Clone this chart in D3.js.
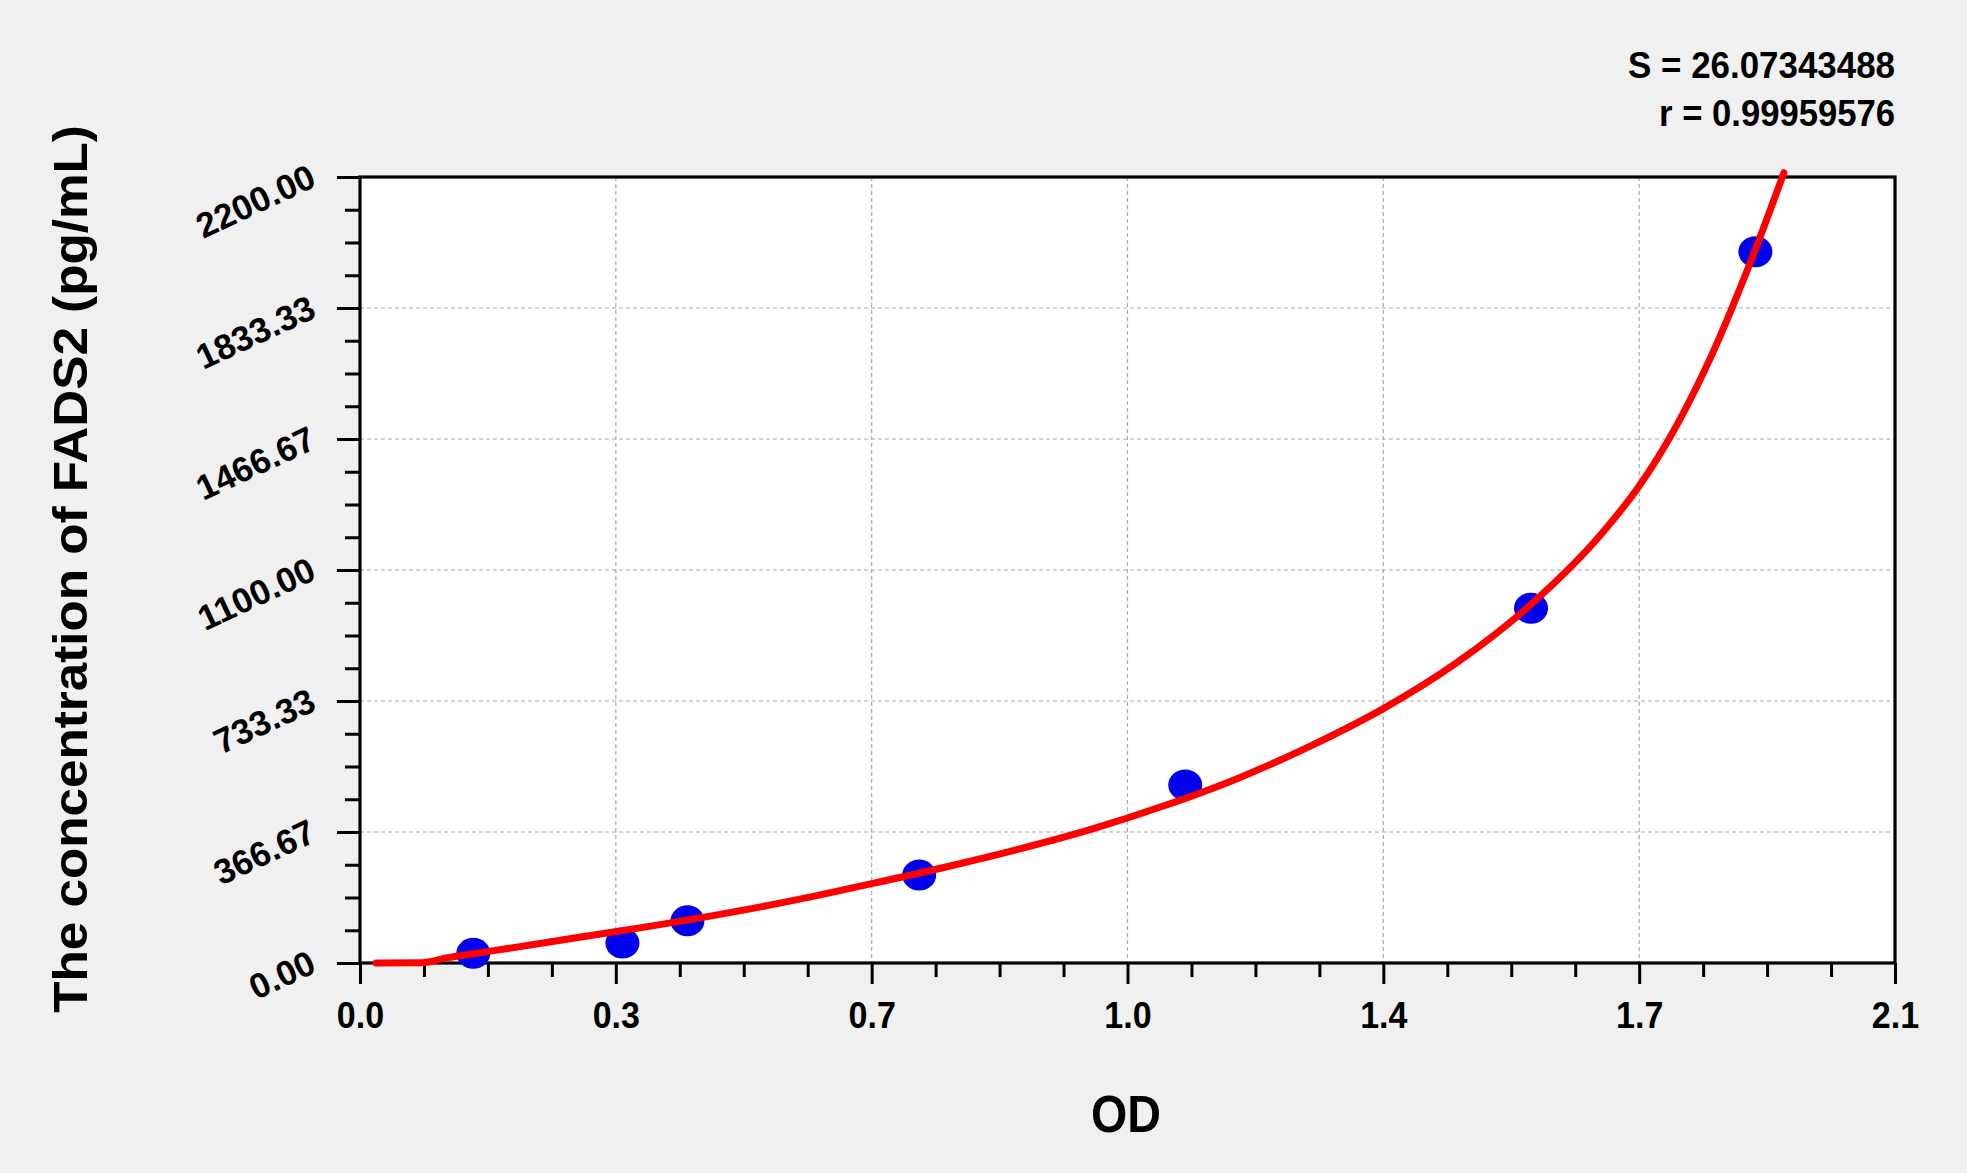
<!DOCTYPE html>
<html>
<head>
<meta charset="utf-8">
<script src="https://cdn.jsdelivr.net/npm/d3@7"></script>
<style>
  html, body { margin: 0; padding: 0; background: #f0f0f0; }
  svg { display: block; }
  text { font-family: "Liberation Sans", Arial, sans-serif; font-weight: bold; fill: #000; }
</style>
</head>
<body>
<svg id="chart" width="1967" height="1173"></svg>
<script>
// ---------- data ----------
const xTickValues = [0, 0.35, 0.7, 1.05, 1.4, 1.75, 2.1];
const xTickLabels = ["0.0", "0.3", "0.7", "1.0", "1.4", "1.7", "2.1"];
const yTickValues = [0, 366.67, 733.33, 1100, 1466.67, 1833.33, 2200];
const yTickLabels = ["0.00", "366.67", "733.33", "1100.00", "1466.67", "1833.33", "2200.00"];

// standards (OD, concentration pg/mL)
const stdOD   = [0.155, 0.359, 0.448, 0.765, 1.129, 1.602, 1.909];
const stdConc = [27, 56, 118, 246, 498, 993, 1991];

// fitted curve
const fitOD   = [0.022, 0.084, 0.12, 0.155, 0.2, 0.3, 0.4, 0.5, 0.6, 0.7, 0.8, 0.9, 1.0,
                 1.1, 1.2, 1.3, 1.4, 1.5, 1.6, 1.7, 1.75, 1.8, 1.85, 1.9, 1.948];
const fitConc = [0, 1, 15, 26, 40, 72, 104, 139, 178, 222, 268, 318, 374,
                 440, 516, 607, 712, 840, 1000, 1205, 1335, 1500, 1705, 1950, 2212];

const statS = "S = 26.07343488";
const statR = "r = 0.99959576";
const xTitle = "OD";
const yTitle = "The concentration of FADS2 (pg/mL)";

// ---------- layout ----------
const svg = d3.select("#chart");
const L = 360, R = 1895, T = 177, B = 963;
const x = d3.scaleLinear().domain([0, 2.1]).range([L, R]);
const y = d3.scaleLinear().domain([0, 2200]).range([B, T]);

// plot background
svg.append("rect").attr("x", L).attr("y", T).attr("width", R - L).attr("height", B - T).attr("fill", "#fff");

// grid
const grid = svg.append("g").attr("stroke", "#a9a9a9").attr("stroke-width", 1.2).attr("stroke-dasharray", "4,3");
grid.selectAll("line.v").data(xTickValues.slice(1, -1)).join("line")
  .attr("x1", d => x(d)).attr("x2", d => x(d)).attr("y1", T).attr("y2", B);
grid.selectAll("line.h").data(yTickValues.slice(1, -1)).join("line")
  .attr("y1", d => y(d)).attr("y2", d => y(d)).attr("x1", L).attr("x2", R);

// minor ticks
const xMinor = d3.range(0, 25).map(i => i * 0.0875).filter((d, i) => i % 4 !== 0);
const yMinor = d3.range(0, 25).map(i => i * 2200 / 24).filter((d, i) => i % 4 !== 0);

const xMinorAxis = svg.append("g").attr("transform", `translate(0,${B})`)
  .call(d3.axisBottom(x).tickValues(xMinor).tickSize(14).tickSizeOuter(0).tickFormat(""));
const yMinorAxis = svg.append("g").attr("transform", `translate(${L},0)`)
  .call(d3.axisLeft(y).tickValues(yMinor).tickSize(15).tickSizeOuter(0).tickFormat(""));

// major axes
const xAxis = svg.append("g").attr("transform", `translate(0,${B})`)
  .call(d3.axisBottom(x).tickValues(xTickValues).tickSize(21).tickSizeOuter(0)
    .tickFormat((d, i) => xTickLabels[i]));
const yAxis = svg.append("g").attr("transform", `translate(${L},0)`)
  .call(d3.axisLeft(y).tickValues(yTickValues).tickSize(23).tickSizeOuter(0)
    .tickFormat((d, i) => yTickLabels[i]));

[xMinorAxis, yMinorAxis, xAxis, yAxis].forEach(g => {
  g.selectAll("line").attr("stroke", "#000").attr("stroke-width", 3);
  g.select(".domain").remove();
});

xAxis.selectAll("text")
  .attr("y", 65).attr("dy", null)
  .attr("font-size", 37).attr("font-family", null)
  .attr("transform", "scale(0.92,1)");
yAxis.selectAll("text")
  .attr("x", null).attr("dy", null)
  .attr("text-anchor", "end")
  .attr("font-size", 35).attr("font-family", null)
  .attr("transform", "translate(-42,8) rotate(-25)");

// frame
svg.append("rect").attr("x", L).attr("y", T).attr("width", R - L).attr("height", B - T)
  .attr("fill", "none").attr("stroke", "#000").attr("stroke-width", 3.2);

// standards
svg.append("g").selectAll("ellipse").data(stdOD).join("ellipse")
  .attr("cx", d => x(d)).attr("cy", (d, i) => y(stdConc[i]))
  .attr("rx", 17).attr("ry", 15.5).attr("fill", "#0000ee");

// fitted curve
const fit = fitOD.map((d, i) => [d, fitConc[i]]);
svg.append("path").datum(fit)
  .attr("d", d3.line().x(d => x(d[0])).y(d => y(d[1])).curve(d3.curveMonotoneX))
  .attr("fill", "none").attr("stroke", "#ff0000").attr("stroke-width", 7)
  .attr("stroke-linecap", "round").attr("stroke-linejoin", "round");

// helper: fit text to a target width
function fitWidth(sel, target) {
  const w = sel.node().getComputedTextLength();
  sel.attr("transform", (sel.attr("transform") || "") + ` scale(${target / w},1)`);
}

// statistics text
const sT = svg.append("text").attr("text-anchor", "end").attr("font-size", 37.5).text(statS)
  .attr("transform", "translate(1895,77.5)");
fitWidth(sT, 267);
const rT = svg.append("text").attr("text-anchor", "end").attr("font-size", 37.5).text(statR)
  .attr("transform", "translate(1895,125.5)");
fitWidth(rT, 236);

// axis titles
const xt = svg.append("text").attr("text-anchor", "middle").attr("font-size", 52).text(xTitle)
  .attr("transform", "translate(1126,1132)");
fitWidth(xt, 70);
const yt = svg.append("text").attr("text-anchor", "middle").attr("font-size", 49).text(yTitle)
  .attr("transform", "translate(87,569) rotate(-90)");
fitWidth(yt, 888);
</script>
</body>
</html>
